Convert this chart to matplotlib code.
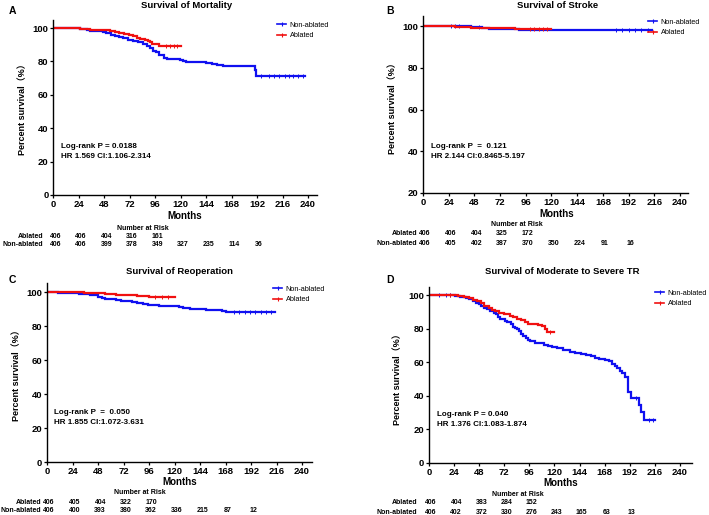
import matplotlib
matplotlib.use("Agg")
import matplotlib.pyplot as plt
from matplotlib import transforms
from matplotlib.lines import Line2D

plt.rcParams['font.family'] = ['Liberation Sans', 'Noto Sans CJK SC', 'DejaVu Sans']

# ---------------- data ----------------
months_ticks = [0, 24, 48, 72, 96, 120, 144, 168, 192, 216, 240]
risk_months = [0, 24, 48, 72, 96, 120, 144, 168, 192]

# Panel A: Mortality
A_non_t = [0, 25, 28, 32, 35, 47, 50, 54, 58, 62, 66, 70, 75, 80, 85, 88, 91, 94, 97, 100, 104, 107, 119, 122, 125, 144, 150, 154, 160, 163, 188, 190, 191, 237]
A_non_s = [100, 99.7, 99.3, 98.6, 98, 97.5, 97, 96, 95.2, 94.5, 93.8, 93, 92.3, 91.5, 90.5, 89.5, 88, 86.5, 85.5, 84, 82, 81.5, 81, 80, 79.5, 79, 78.5, 78, 77.5, 77, 77, 75, 71.5, 71.5]
A_non_cens = [196, 203, 208, 213, 218, 222, 226, 231, 235]
A_abl_t = [0, 25, 30, 35, 49, 53, 58, 62, 67, 71, 75, 79, 82, 86, 89, 91, 93, 97, 100, 102, 120]
A_abl_s = [100, 99.6, 99.3, 99, 98.8, 98.3, 97.8, 97.3, 96.5, 95.7, 95, 94.3, 93.5, 93, 92.5, 91.5, 90.5, 90.2, 89.5, 89, 89]
A_abl_cens = [106, 110, 114, 117]
A_risk_abl = ["406", "406", "404", "316", "161"]
A_risk_non = ["406", "406", "399", "378", "349", "327", "235", "114", "36"]

# Panel B: Stroke
B_non_t = [0, 40, 45, 55, 62, 90, 97, 214]
B_non_s = [100, 99.8, 99.5, 99.2, 98.7, 98.3, 97.9, 97.9]
B_non_cens = [26, 30, 34, 52, 180, 186, 192, 198, 204, 210]
B_abl_t = [0, 30, 35, 45, 65, 86, 92, 120]
B_abl_s = [100, 99.7, 99.5, 99.2, 99.1, 98.7, 98.5, 98.5]
B_abl_cens = [100, 104, 108, 112, 116]
B_risk_abl = ["406", "406", "404", "325", "172"]
B_risk_non = ["406", "405", "402", "387", "370", "350", "224", "91", "16"]

# Panel C: Reoperation
C_non_t = [0, 10, 20, 30, 40, 45, 48, 52, 55, 60, 65, 70, 75, 80, 85, 90, 95, 100, 105, 112, 120, 124, 128, 135, 140, 150, 165, 168, 215]
C_non_s = [100, 99.7, 99.4, 99, 98.5, 98, 97, 96.5, 96, 95.6, 95.3, 95, 94.5, 94, 93.5, 93, 92.5, 92.2, 92, 91.8, 91.5, 91, 90.5, 90.2, 90, 89.5, 89, 88, 88]
C_non_cens = [176, 181, 186, 191, 196, 201, 206, 211]
C_abl_t = [0, 20, 35, 45, 55, 65, 75, 85, 96, 120]
C_abl_s = [100, 99.8, 99.6, 99.3, 98.9, 98.5, 98.2, 97.7, 97, 97]
C_abl_cens = [102, 108, 114]
C_risk_abl = ["406", "405", "404", "322", "170"]
C_risk_non = ["406", "400", "393", "380", "362", "336", "215", "87", "12"]

# Panel D: Moderate to severe TR
D_non_t = [0, 25, 30, 35, 38, 42, 45, 48, 50, 53, 55, 58, 62, 64, 66, 68, 70, 73, 75, 78, 80, 82, 84, 86, 88, 90, 93, 95, 97, 101, 106, 110, 114, 118, 122, 128, 135, 140, 145, 150, 155, 159, 163, 168, 172, 175, 178, 180, 183, 185, 187, 190, 193, 201, 203, 205.5, 216]
D_non_s = [100, 99.6, 99, 98.3, 97.5, 96.5, 95.5, 94.5, 93.5, 92.5, 91.5, 90.5, 89.5, 88.5, 87, 86, 85.5, 84.8, 84, 82.5, 81, 80.5, 79.5, 78.5, 77, 75.5, 74.5, 73.5, 72.5, 71.7, 71.2, 70.5, 69.8, 69, 68.2, 67.2, 66.2, 65.5, 64.8, 64.2, 63.5, 62.5, 61.8, 61.2, 60.5, 59, 57.5, 56.5, 54.5, 53.5, 51.5, 42, 39, 34.5, 30.5, 25.5, 25.5]
D_non_cens = [10, 16, 20, 198, 210, 214]
D_abl_t = [0, 28, 33, 38, 42, 46, 50, 53, 57, 60, 63, 67, 72, 77, 80, 84, 88, 92, 95, 100, 104, 108, 111, 113, 120]
D_abl_s = [100, 99.5, 98.8, 98, 97.2, 96.3, 95, 93.5, 92, 91, 90.3, 89.3, 88.5, 87.8, 87, 86, 85.2, 84, 83, 82.5, 82, 81.5, 80, 78, 78]
D_abl_cens = [20, 116]
D_risk_abl = ["406", "404", "383", "284", "152"]
D_risk_non = ["406", "402", "372", "330", "276", "243", "165", "63", "13"]

panels = [
    dict(letter="A", title="Survival of Mortality", non=(A_non_t, A_non_s, A_non_cens), abl=(A_abl_t, A_abl_s, A_abl_cens),
         ra=A_risk_abl, rn=A_risk_non, stat=["Log-rank P = 0.0188", "HR 1.569 CI:1.106-2.314"],
         rect=(53.3, 20, 317, 195), xmax=248.5, ylim=(0, 104.8), yticks=[0, 20, 40, 60, 80, 100],
         title_xy=(187, 5), letter_xy=(12, 11), ylab_xy=(23, 107), months_xy=(185, 216),
         nar_xy=(143, 228), rows_y=(236, 245), lab_x=43, stat_xy=(61, 147), leg_xy=(277, 25)),
    dict(letter="B", title="Survival of Stroke", non=(B_non_t, B_non_s, B_non_cens), abl=(B_abl_t, B_abl_s, B_abl_cens),
         ra=B_risk_abl, rn=B_risk_non, stat=["Log-rank P  =  0.121", "HR 2.144 CI:0.8465-5.197"],
         rect=(423, 16, 688, 193), xmax=247.5, ylim=(20, 104.8), yticks=[20, 40, 60, 80, 100],
         title_xy=(558, 5), letter_xy=(390, 11), ylab_xy=(393, 106), months_xy=(557, 214),
         nar_xy=(517, 225), rows_y=(234, 243), lab_x=417, stat_xy=(431, 146), leg_xy=(648, 22)),
    dict(letter="C", title="Survival of Reoperation", non=(C_non_t, C_non_s, C_non_cens), abl=(C_abl_t, C_abl_s, C_abl_cens),
         ra=C_risk_abl, rn=C_risk_non, stat=["Log-rank P  =  0.050", "HR 1.855 CI:1.072-3.631"],
         rect=(47, 283, 312, 462), xmax=249.4, ylim=(0, 105.3), yticks=[0, 20, 40, 60, 80, 100],
         title_xy=(180, 271), letter_xy=(12, 280), ylab_xy=(17, 373), months_xy=(180, 482),
         nar_xy=(140, 493), rows_y=(502, 511), lab_x=41, stat_xy=(54, 412), leg_xy=(273, 289)),
    dict(letter="D", title="Survival of Moderate to Severe TR", non=(D_non_t, D_non_s, D_non_cens), abl=(D_abl_t, D_abl_s, D_abl_cens),
         ra=D_risk_abl, rn=D_risk_non, stat=["Log-rank P = 0.040", "HR 1.376 CI:1.083-1.874"],
         rect=(429, 287, 692, 463), xmax=251.5, ylim=(0, 104.8), yticks=[0, 20, 40, 60, 80, 100],
         title_xy=(562, 272), letter_xy=(390, 280), ylab_xy=(398, 377), months_xy=(561, 483),
         nar_xy=(518, 494), rows_y=(503, 512), lab_x=417, stat_xy=(437, 414), leg_xy=(655, 293)),
]

W, H = 709, 515
fig = plt.figure(figsize=(W / 100, H / 100), dpi=100)

BLUE = "#1010f0"
RED = "#f01010"


def fx(x):
    return x / W


def fy(y):
    return 1 - y / H


def surv_at(ts, ss, t):
    val = ss[0]
    for ti, si in zip(ts, ss):
        if ti <= t:
            val = si
    return val


for p in panels:
    x0, y0, x1, y1 = p["rect"]
    ax = fig.add_axes([fx(x0), fy(y1), (x1 - x0) / W, (y1 - y0) / H])
    for (ts, ss, cens), col in [(p["non"], BLUE), (p["abl"], RED)]:
        ax.step(ts, ss, where="post", color=col, lw=1.6, solid_joinstyle="miter")
        ax.plot(cens, [surv_at(ts, ss, c) for c in cens], ls="none", marker="|",
                ms=2.6, mew=0.7, color=col)
    ax.set_xlim(0, p["xmax"])
    ax.set_ylim(*p["ylim"])
    ax.set_xticks(months_ticks)
    ax.set_yticks(p["yticks"])
    for s in ["top", "right"]:
        ax.spines[s].set_visible(False)
    for s in ["left", "bottom"]:
        ax.spines[s].set_linewidth(1.0)
    ax.tick_params(axis="both", direction="out", length=2.5, width=0.9, pad=1,
                   labelsize=6.8)
    for lab in ax.get_xticklabels() + ax.get_yticklabels():
        lab.set_fontweight("bold")

    fig.text(fx(p["title_xy"][0]), fy(p["title_xy"][1]), p["title"], ha="center", va="center",
             fontsize=6.8, fontweight="bold")
    fig.text(fx(p["letter_xy"][0]), fy(p["letter_xy"][1]), p["letter"], ha="center", va="center",
             fontsize=7.5, fontweight="bold")
    fig.text(fx(p["ylab_xy"][0]), fy(p["ylab_xy"][1]), "Percent survival（%）", rotation=90,
             ha="center", va="center", fontsize=6.5, fontweight="bold")
    fig.text(fx(p["months_xy"][0]), fy(p["months_xy"][1]), "Months", ha="center", va="center",
             fontsize=7, fontweight="bold")
    fig.text(fx(p["stat_xy"][0]), fy(p["stat_xy"][1]), p["stat"][0], ha="left", va="center",
             fontsize=5.8, fontweight="bold")
    fig.text(fx(p["stat_xy"][0]), fy(p["stat_xy"][1] + 10), p["stat"][1], ha="left", va="center",
             fontsize=5.8, fontweight="bold")

    # legend
    handles = [Line2D([], [], color=BLUE, lw=1.2, marker="|", ms=2.5, mew=0.8),
               Line2D([], [], color=RED, lw=1.2, marker="|", ms=2.5, mew=0.8)]
    fig.legend(handles, ["Non-ablated", "Ablated"], loc="center left",
               bbox_to_anchor=(fx(p["leg_xy"][0]), fy(p["leg_xy"][1] + 5.5)),
               frameon=False, fontsize=5.2, handlelength=1.3, handletextpad=0.45,
               labelspacing=0.45, borderpad=0, borderaxespad=0)

    # number at risk
    fig.text(fx(p["nar_xy"][0]), fy(p["nar_xy"][1]), "Number at Risk", ha="center", va="center",
             fontsize=5.0, fontweight="bold")
    tr = transforms.blended_transform_factory(ax.transData, fig.transFigure)
    fig.text(fx(p["lab_x"]), fy(p["rows_y"][0]), "Ablated", ha="right", va="center",
             fontsize=5.0, fontweight="bold")
    fig.text(fx(p["lab_x"]), fy(p["rows_y"][1]), "Non-ablated", ha="right", va="center",
             fontsize=5.0, fontweight="bold")
    for m, v in zip(risk_months, p["ra"]):
        ax.text(m + 2, fy(p["rows_y"][0]), v, transform=tr, ha="center", va="center",
                fontsize=5.0, fontweight="bold", clip_on=False)
    for m, v in zip(risk_months, p["rn"]):
        ax.text(m + 2, fy(p["rows_y"][1]), v, transform=tr, ha="center", va="center",
                fontsize=5.0, fontweight="bold", clip_on=False)

fig.savefig("out.png", dpi=100)
